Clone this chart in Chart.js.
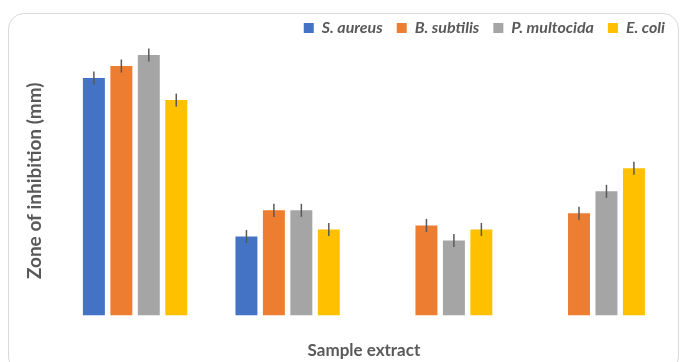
<!DOCTYPE html>
<html>
<head>
<meta charset="utf-8">
<script src="https://cdn.jsdelivr.net/npm/chart.js@4/dist/chart.umd.min.js"></script>
<style>
  body { margin: 0; background: #fff; }
  #wrap { position: relative; width: 680px; height: 362px; overflow: hidden; }
  #frame { position: absolute; left: 8px; top: 13px; width: 671px; height: 360px;
           border: 1px solid #d9d9d9; border-radius: 16px; box-sizing: border-box; }
  canvas { position: absolute; left: 0; top: 0; }
</style>
</head>
<body>
<div id="wrap">
  <div id="frame"></div>
  <canvas id="bar-chart" width="680" height="362"></canvas>
</div>
<script>
// data
const samples = ["Extract 1", "Extract 2", "Extract 3", "Extract 4"];
const seriesNames = ["S. aureus", "B. subtilis", "P. multocida", "E. coli"];
const sAureus = [23.7, 7.9, null, null];
const bSubtilis = [24.9, 10.5, 9.0, 10.2];
const pMultocida = [26.0, 10.5, 7.5, 12.4];
const eColi = [21.5, 8.6, 8.6, 14.7];
const sAureusErr = [0.65, 0.65, 0, 0];
const bSubtilisErr = [0.65, 0.65, 0.65, 0.65];
const pMultocidaErr = [0.65, 0.65, 0.65, 0.65];
const eColiErr = [0.65, 0.65, 0.65, 0.65];

const colors = ["#4472C4", "#ED7D31", "#A5A5A5", "#FFC000"];
const values = [sAureus, bSubtilis, pMultocida, eColi];
const errors = [sAureusErr, bSubtilisErr, pMultocidaErr, eColiErr];

// little plugin for the error bars
const errorBars = {
    id: "errorBars",
    afterDatasetsDraw(chart) {
        const ctx = chart.ctx;
        const y = chart.scales.y;
        ctx.save();
        ctx.strokeStyle = "#595959";
        ctx.lineWidth = 1.5;
        chart.data.datasets.forEach((ds, i) => {
            const meta = chart.getDatasetMeta(i);
            meta.data.forEach((bar, j) => {
                const v = ds.data[j];
                if (v == null) return;
                const e = errors[i][j];
                ctx.beginPath();
                ctx.moveTo(bar.x, y.getPixelForValue(v + e));
                ctx.lineTo(bar.x, y.getPixelForValue(v - e));
                ctx.stroke();
            });
        });
        ctx.restore();
    }
};

// push the legend a bit to the right, past the plot edge
const legendShift = {
    id: "legendShift",
    afterLayout(chart) {
        chart.legend.left += 10;
        chart.legend.right += 10;
    }
};

document.addEventListener('DOMContentLoaded', ol)
function ol()
{
    Chart.defaults.font.family = "Lato, 'Open Sans', sans-serif";
    Chart.defaults.color = "#595959";

    let datasets = [];
    for (let i = 0; i < values.length; i++) {
        datasets.push({
            label: seriesNames[i],
            data: values[i],
            backgroundColor: colors[i],
            barPercentage: 0.8,
            categoryPercentage: 0.72
        });
    }

    new Chart(document.getElementById("bar-chart"), {
        type: 'bar',
        data: { labels: samples, datasets: datasets },
        plugins: [errorBars, legendShift],
        options: {
            responsive: false,
            animation: false,
            layout: { padding: { left: 18, right: 11, top: 6, bottom: 0 } },
            plugins: {
                tooltip: { enabled: false },
                legend: {
                    position: 'top',
                    align: 'end',
                    labels: {
                        boxWidth: 10,
                        boxHeight: 10,
                        padding: 14,
                        color: "#595959",
                        font: { size: 16, weight: 'bold', style: 'italic' }
                    }
                }
            },
            scales: {
                x: {
                    grid: { display: false, drawTicks: false },
                    border: { display: false },
                    ticks: { display: false },
                    title: {
                        display: true,
                        text: 'Sample extract',
                        color: "#595959",
                        font: { size: 17, weight: 'bold' },
                        padding: { top: 25, bottom: 1 }
                    }
                },
                y: {
                    min: 0,
                    max: 26.9,
                    grid: { display: false, drawTicks: false },
                    border: { display: false },
                    ticks: { display: false },
                    title: {
                        display: true,
                        text: 'Zone of inhibition (mm)',
                        color: "#595959",
                        font: { size: 19, weight: 'bold' },
                        padding: { top: 5, bottom: 13 }
                    }
                }
            }
        }
    });
}
</script>
</body>
</html>
